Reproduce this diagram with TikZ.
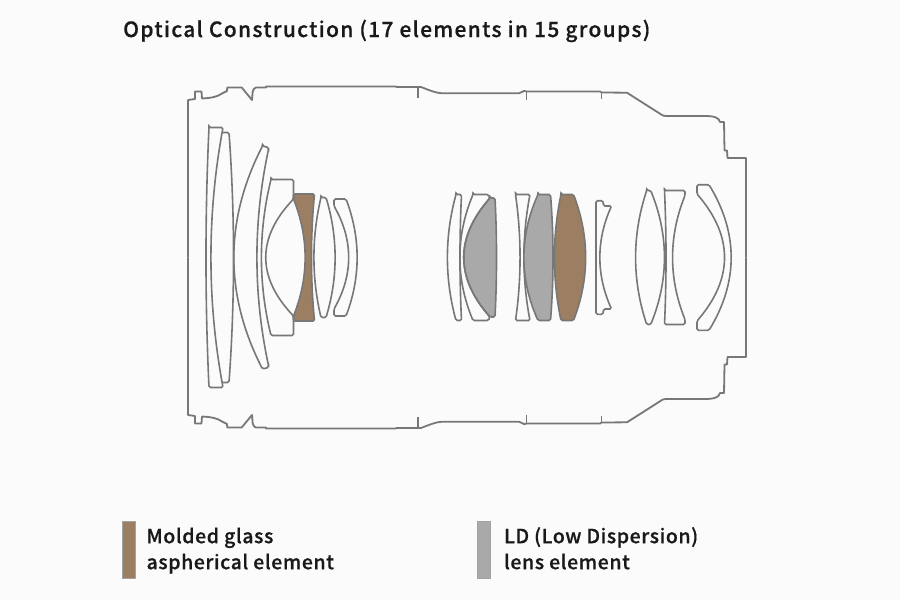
\documentclass[tikz,border=0pt]{standalone}
\usepackage{fontspec}
\setmainfont{Noto Sans CJK JP}[LetterSpace=3,BoldFont={Noto Sans CJK JP Medium},BoldFeatures={FakeBold=0.6}]
\usetikzlibrary{positioning}
\definecolor{paper}{HTML}{FBFBFB}
\definecolor{edgegray}{HTML}{777777}
\definecolor{moldedbrown}{HTML}{9C7F63}
\definecolor{ldgray}{HTML}{A9A9A9}
\definecolor{keyedge}{HTML}{A3A3A3}
\tikzset{
	barrelline/.style={draw=edgegray,line width=1.8pt,line join=round},
	lensline/.style={draw=edgegray,line width=1.6pt,rounded corners=1.5pt},
	moldedlens/.style={lensline,fill=moldedbrown},
	ldlens/.style={lensline,fill=ldgray},
	keybox/.style={draw=keyedge,line width=1.2pt,minimum width=12.5pt,minimum height=56.5pt,inner sep=0pt},
	keytext/.style={font=\fontsize{19.5}{26}\selectfont\bfseries,text=black!90,align=left,inner sep=0pt,yshift=-1pt}
}
% side of a lens, symmetric about the axis: to (x,h) and bulging through (c,0)
\newcommand{\bow}[3]{.. controls ({#1+4/3*(#3-#1)},{-(#2)/3}) and ({#1+4/3*(#3-#1)},{(#2)/3}) .. (#1,#2)}
\begin{document}
\begin{tikzpicture}[x=1pt,y=-1pt]
	\fill[paper] (0,0) rectangle (900,600);
	\useasboundingbox (0,0) rectangle (900,600);
	\node[anchor=base west,inner sep=0pt,font=\fontsize{21}{25}\selectfont\bfseries\addfontfeature{LetterSpace=6.2},text=black!90] (title) at (123,37) {Optical Construction (17 elements in 15 groups)};
	\begin{scope}[shift={(0,257.5)}]
		% barrel, top half and its mirror image
		\foreach \flip in {1,-1} {
			\begin{scope}[yscale=\flip]
				\draw[barrelline] (188,0) -- (188,-157.5) -- (195,-158.5) -- (195,-166) -- (201.5,-166) -- (202,-159)
					.. controls (212,-159.5) and (218,-161) .. (222,-164) -- (227,-166.5) -- (227.3,-170) -- (241.7,-170) -- (252,-157.5) -- (252.7,-166)
					.. controls (253.5,-168) and (254.5,-170) .. (256,-170) -- (266,-170) -- (266,-171) -- (396,-171) -- (396.5,-170.5) -- (421,-170.5)
					.. controls (430,-167) and (436,-164.5) .. (442,-164.2) -- (519,-164.2) -- (524,-166.5) -- (527,-166) -- (600,-166) -- (601.5,-165) -- (627,-164.8) -- (662,-142.5)
					.. controls (663,-142) and (664,-141.5) .. (666,-141.5) -- (705,-141.5)
					.. controls (714,-141.5) and (719,-140) .. (720,-135.5) -- (724,-135.5) -- (724.5,-107) -- (727,-107) -- (727.5,-99.5) -- (746,-99.5) -- (746,0);
				\foreach \tickx/\ticka/\tickb in {418/-170.5/-159.5,526.5/-166/-157.5,601.5/-165/-158.5} {
					\draw[barrelline] (\tickx,\ticka) -- (\tickx,\tickb);
				}
			\end{scope}
		}
		% front group
		\draw[lensline] (209,-130) -- (223,-130) \bow{223}{130}{211} -- (209,130) \bow{209}{-130}{206} -- cycle;
		\draw[lensline] (222,-125) -- (229,-125) \bow{229}{125}{233.5} -- (222,125);
		\draw[lensline] (262.5,-111.5) -- (268.5,-110) -- (268.5,-108) \bow{268.5}{108}{257} -- (268.5,110) -- (262.5,111.5) \bow{262.5}{-111.5}{234} -- cycle;
		\draw[moldedlens] (293.5,-63.5) -- (314.5,-63.5) \bow{314.5}{63.5}{311.5} -- (293.5,63.5) -- (293.5,58.5) \bow{293.5}{-58.5}{305} -- cycle;
		\draw[lensline] (271,-78) -- (293.5,-78) -- (293.5,-58.5) \bow{293.5}{58.5}{266} -- (293.5,78) -- (271,78) \bow{271}{-78}{261.5} -- cycle;
		\draw[lensline] (321,-60) -- (326,-60) \bow{326}{60}{335} -- (321,60) \bow{321}{-60}{314} -- cycle;
		\draw[lensline] (334,-58.5) -- (346,-58.5) \bow{346}{58.5}{357} -- (334,58.5) -- (334,51.5) \bow{334}{-51.5}{348.5} -- cycle;
		% middle groups
		\draw[lensline] (456,-63) -- (461.5,-63) \bow{461.5}{63}{460} -- (456,63) \bow{456}{-63}{447.5} -- cycle;
		\draw[ldlens] (490,-59.5) -- (495,-59.5) \bow{495}{59.5}{496.5} -- (490,59.5) \bow{490}{-59.5}{464} -- cycle;
		\draw[lensline] (473,-63) -- (488.5,-63) -- (490,-59.5) \bow{490}{59.5}{464} -- (488.5,63) -- (473,63) \bow{473}{-63}{460} -- cycle;
		\draw[lensline] (515.5,-63) -- (530,-63) \bow{530}{63}{524} -- (515.5,63) \bow{515.5}{-63}{520} -- cycle;
		\draw[ldlens] (538,-63) -- (550.5,-63) \bow{550.5}{63}{553} -- (538,63) \bow{538}{-63}{524} -- cycle;
		\draw[moldedlens] (561,-63) -- (573.5,-63) \bow{573.5}{63}{585.5} -- (561,63) \bow{561}{-63}{554.5} -- cycle;
		\draw[lensline] (596,-56.8) -- (603,-56.8) -- (603.5,-51.5) -- (611.5,-51.5) \bow{611.5}{51.5}{600} -- (603.5,51.5) -- (603,56.8) -- (596,56.8) -- cycle;
		% rear group
		\draw[lensline] (646.7,-67) -- (650.7,-67) \bow{650.7}{67}{664.3} -- (646.7,67) \bow{646.7}{-67}{635.7} -- cycle;
		\draw[lensline] (664.5,-67) -- (685,-67) -- (685,-62) \bow{685}{62}{672.7} -- (685,67) -- (664.5,67) \bow{664.5}{-67}{666} -- cycle;
		\draw[lensline] (697,-72.8) -- (709,-72.8) \bow{709}{72.8}{731} -- (697,72.8) -- (697,63.5) \bow{697}{-63.5}{724.3} -- cycle;
	\end{scope}
	% key
	\node[keybox,fill=moldedbrown] (moldedkey) at (129,550) {};
	\node[keytext,right=10.5pt of moldedkey] (moldedtext) {\strut Molded glass\\\strut aspherical element};
	\node[keybox,fill=ldgray] (ldkey) at (484,550) {};
	\node[keytext,right=13pt of ldkey] (ldtext) {\strut LD (Low Dispersion)\\\strut lens element};
\end{tikzpicture}
\end{document}
